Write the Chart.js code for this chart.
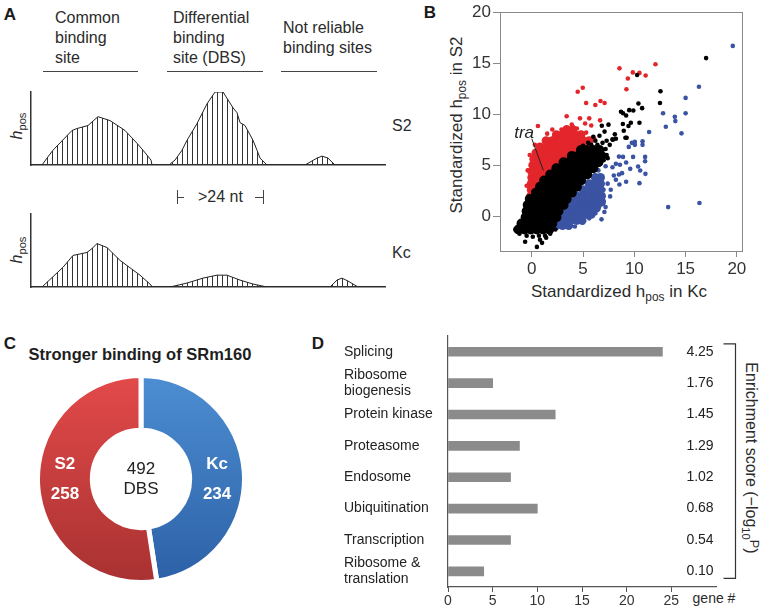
<!DOCTYPE html>
<html lang="en">
<head>
<meta charset="UTF-8">
<meta name="viewport" content="width=device-width, initial-scale=1.0">
<title>SRm160 differential binding</title>
<script src="https://cdn.jsdelivr.net/npm/chart.js"></script>
<style>
  body { margin: 0; background: #fff; font-family: "Liberation Sans", Arial, sans-serif; color: #2b2b2b; }
  #fig { position: relative; width: 767px; height: 614px; overflow: hidden; }
  #fig canvas { position: absolute; }
  .c { position: absolute; transform: translate(-50%, -50%); line-height: 1; white-space: nowrap; }
  .l { position: absolute; transform: translateY(-50%); line-height: 1; white-space: nowrap; }
  .tag { position: absolute; transform: translate(-50%, -50%); line-height: 1; font-weight: bold; font-size: 17px; color: #1a1a1a; }
  .head { position: absolute; font-size: 16px; line-height: 20px; white-space: nowrap; }
  .rule { position: absolute; border-top: 1px solid #444; height: 0; }
  .vrule { position: absolute; border-left: 1px solid #444; width: 0; }
  .rot { position: absolute; white-space: nowrap; line-height: 1; transform: translate(-50%, -50%) rotate(-90deg); }
  .rot90 { position: absolute; white-space: nowrap; line-height: 1; transform: translate(-50%, -50%) rotate(90deg); }
  sub { font-size: 70%; vertical-align: -0.35em; line-height: 0; }
  sup { font-size: 80%; vertical-align: 0.3em; line-height: 0; }
</style>
</head>
<body>
<div id="fig">
  <!-- panel letters -->
  <div class="tag" style="left:10px;top:14px">A</div>
  <div class="tag" style="left:430px;top:12px">B</div>
  <div class="tag" style="left:10px;top:343px">C</div>
  <div class="tag" style="left:318px;top:343px">D</div>

  <!-- panel A headers -->
  <div class="head" style="left:55px;top:8px">Common<br>binding<br>site</div>
  <div class="head" style="left:173px;top:8px">Differential<br>binding<br>site (DBS)</div>
  <div class="head" style="left:283px;top:18px">Not reliable<br>binding sites</div>
  <div class="rule" style="left:43px;top:71px;width:95px"></div>
  <div class="rule" style="left:167px;top:71px;width:96px"></div>
  <div class="rule" style="left:281px;top:71px;width:96px"></div>

  <div class="rot" style="left:17px;top:126px;font-size:16px"><i>h</i><sub>pos</sub></div>
  <div class="rot" style="left:17px;top:250px;font-size:16px"><i>h</i><sub>pos</sub></div>
  <div class="l" style="left:392px;top:126px;font-size:16px">S2</div>
  <div class="l" style="left:392px;top:253px;font-size:16px">Kc</div>

  <div class="vrule" style="left:177px;top:190px;height:14px"></div>
  <div class="rule" style="left:177px;top:197px;width:7px"></div>
  <div class="l" style="left:198px;top:197px;font-size:16px">&gt;24 nt</div>
  <div class="rule" style="left:255px;top:197px;width:8px"></div>
  <div class="vrule" style="left:263px;top:190px;height:14px"></div>

  <!-- panel B titles -->
  <div class="rot" style="left:456px;top:125px;font-size:17px">Standardized h<sub>pos</sub> in S2</div>
  <div class="c" style="left:619px;top:291px;font-size:17px">Standardized h<sub>pos</sub> in Kc</div>

  <!-- panel C title -->
  <div class="c" style="left:140px;top:354px;font-size:16.5px;font-weight:bold;color:#1e1e1e">Stronger binding of SRm160</div>

  <!-- panel D titles -->
  <div class="c" style="left:714px;top:598px;font-size:14px">gene #</div>
  <div class="rot90" style="left:751px;top:458px;font-size:16px">Enrichment score (&minus;log<sub>10</sub><sup>P</sup>)</div>

  <canvas id="aTop" width="357" height="77" style="left:30px;top:90px"></canvas>
  <canvas id="aBot" width="357" height="77" style="left:30px;top:212px"></canvas>
  <canvas id="scatter" width="327" height="300" style="left:440px;top:0px"></canvas>
  <canvas id="donut" width="212" height="212" style="left:35px;top:373px"></canvas>
  <canvas id="bars" width="427" height="294" style="left:340px;top:320px"></canvas>
</div>

<script>
// ---- panel A: schematic peak profiles (position, height) ----
const s2Pos = [0, 11, 16, 22, 41, 46, 57, 67, 79, 94, 106, 112, 120, 121, 138, 144, 151, 156, 166, 176, 184, 192, 202, 206, 209, 214, 222, 226, 229, 236, 274, 286, 291, 297, 304, 354];
const s2Height = [0, 0, 7, 15, 35, 37, 40, 49, 45, 35, 22, 15, 5, 0, 0, 5, 15, 25, 42, 62, 74, 74, 58, 53, 43, 40, 25, 15, 7, 0, 0, 7, 9, 7, 0, 0];
const kcPos = [0, 11, 32, 42, 56, 61, 66, 76, 89, 109, 120, 121, 139, 156, 172, 186, 196, 209, 222, 236, 299, 306, 311, 317, 327, 354];
const kcHeight = [0, 0, 20, 32, 35, 39, 44, 40, 27, 12, 2, 0, 0, 4, 9, 12, 12, 7, 3, 0, 0, 7, 9, 6, 0, 0];

// ---- panel B: standardized h_pos, [Kc, S2] ----
const scatterTicks = [0, 5, 10, 15, 20];
const blackCore = [
  [-1.3,-1.3],[-0.7,-1.3],[-0.1,-1.3],[0.5,-1.3],[1.1,-1.3],[1.7,-1.3],
  [-1.0,-0.7],[-0.4,-0.7],[0.2,-0.7],[0.8,-0.7],[1.4,-0.7],[2.0,-0.7],
  [-0.6,-0.1],[0.0,-0.1],[0.6,-0.1],[1.2,-0.1],[1.8,-0.1],[2.4,-0.1],
  [-0.5,0.5],[0.1,0.5],[0.7,0.5],[1.3,0.5],[1.9,0.5],[2.6,0.5],
  [-0.4,1.1],[0.2,1.1],[0.8,1.1],[1.4,1.1],[2.0,1.1],[2.6,1.1],[3.1,1.1],
  [-0.2,1.7],[0.4,1.7],[1.0,1.7],[1.6,1.7],[2.2,1.7],[2.8,1.7],[3.4,1.7],
  [0.4,2.3],[1.0,2.3],[1.6,2.3],[2.2,2.3],[2.8,2.3],[3.4,2.3],[3.9,2.3],
  [0.8,2.9],[1.4,2.9],[2.0,2.9],[2.6,2.9],[3.2,2.9],[3.8,2.9],[4.4,2.9],
  [1.2,3.5],[1.8,3.5],[2.4,3.5],[3.0,3.5],[3.6,3.5],[4.2,3.5],[4.8,3.5],
  [1.8,4.1],[2.4,4.1],[3.0,4.1],[3.6,4.1],[4.2,4.1],[4.8,4.1],[5.4,4.1],
  [2.4,4.7],[3.0,4.7],[3.6,4.7],[4.2,4.7],[4.8,4.7],[5.4,4.7],[6.0,4.7],
  [3.1,5.3],[3.7,5.3],[4.3,5.3],[4.9,5.3],[5.5,5.3],[6.1,5.3],[6.5,5.3],
  [3.9,5.9],[4.5,5.9],[5.1,5.9],[5.7,5.9],[6.3,5.9],[6.8,5.9],
  [4.8,6.5],[5.4,6.5],[6.0,6.5],[6.6,6.5]
];
const blackSpread = [
  [-1.6,-1.3],[-1.2,-1.7],[-0.5,-1.9],[0.1,-2.0],[0.7,-1.9],[1.3,-1.9],[1.8,-1.7],[-0.65,-2.5],[0.8,-2.3],
  [1.0,-2.6],[0.5,-3.0],[1.4,-2.1],[2.3,-1.3],[6.9,6.2],[7.2,6.6],[6.4,7.0],[6.9,7.2],[7.3,7.4],[7.6,7.0],
  [7.9,7.5],[7.3,6.0],[7.0,5.5],[7.4,5.7],[5.8,7.0],[6.2,7.4],[6.6,7.9],[7.1,8.3],[6.83,8.88],[7.48,8.98],
  [8.1,8.03],[7.87,7.54],[8.2,7.6],[8.97,8.39],[9.13,7.7],[9.25,7.7],[8.88,9.04],[9.43,8.85],[9.66,9.17],
  [10.5,9.17],[9.2,9.88],[8.7,10.24],[8.9,10.1],[9.5,10.4],[9.9,10.37],[10.4,11.05],[10.76,10.6],[12.5,11.1],
  [12.55,12.26],[10.27,13.85],[17.0,15.5],[5.0,6.9],[5.5,7.2],[4.6,6.6],[6.0,7.8]
];
const redCore = [
  [-0.1,2.0],[-0.05,2.6],[0.3,2.6],[-0.05,3.2],[0.4,3.2],[0.0,3.8],[0.5,3.8],[1.0,3.8],
  [0.0,4.4],[0.5,4.4],[1.1,4.4],[1.6,4.4],[0.1,5.0],[0.6,5.0],[1.2,5.0],[1.8,5.0],[2.3,5.0],
  [0.2,5.6],[0.8,5.6],[1.4,5.6],[2.0,5.6],[2.6,5.6],[3.1,5.6],
  [0.4,6.2],[1.0,6.2],[1.6,6.2],[2.2,6.2],[2.8,6.2],[3.4,6.2],[4.0,6.2],
  [0.8,6.8],[1.4,6.8],[2.0,6.8],[2.6,6.8],[3.2,6.8],[3.8,6.8],[4.4,6.8],[5.0,6.8],
  [1.4,7.4],[2.0,7.4],[2.6,7.4],[3.2,7.4],[3.8,7.4],[4.4,7.4],[5.0,7.4],[5.6,7.4],
  [2.4,8.0],[3.0,8.0],[3.6,8.0],[4.2,8.0],[4.8,8.0],[3.4,8.5],[4.0,8.5]
];
const redSpread = [
  [-0.5,3.0],[-0.4,4.5],[-0.2,6.0],[0.3,7.0],[0.6,8.85],[1.5,8.1],[2.0,8.5],[2.9,8.5],[2.5,8.1],[3.4,9.8],
  [3.9,9.0],[4.4,8.6],[4.7,9.6],[5.2,9.1],[5.6,9.6],[5.8,8.9],[5.3,8.2],[6.1,7.6],[6.66,9.4],[4.48,12.2],
  [4.97,12.6],[5.3,11.1],[6.2,10.9],[6.7,11.3],[7.1,11.1],[8.55,14.5],[9.37,13.5],[9.85,14.1],[10.5,14.05],
  [11.1,13.8],[12.06,14.9],[9.23,12.45]
];
const blueCore = [
  [2.4,-0.9],[3.0,-0.9],[3.6,-0.9],
  [2.6,-0.4],[3.2,-0.4],[3.8,-0.4],[4.4,-0.4],[4.9,-0.4],
  [2.9,0.2],[3.5,0.2],[4.1,0.2],[4.7,0.2],[5.3,0.2],[5.8,0.2],
  [3.4,0.8],[4.0,0.8],[4.6,0.8],[5.2,0.8],[5.8,0.8],[6.3,0.8],
  [3.9,1.4],[4.5,1.4],[5.1,1.4],[5.7,1.4],[6.3,1.4],[6.8,1.4],
  [4.4,2.0],[5.0,2.0],[5.6,2.0],[6.2,2.0],[6.8,2.0],
  [5.0,2.6],[5.6,2.6],[6.2,2.6],[6.7,2.6],[5.6,3.2],[6.2,3.2],[6.7,3.2],[6.2,3.8],[6.7,3.8]
];
const blueSpread = [
  [1.9,-1.2],[4.2,-1.0],[5.0,-0.6],[5.6,-0.2],[6.2,0.3],[6.8,-0.3],[6.6,1.0],[7.0,1.5],[7.08,0.42],[7.2,0.9],
  [7.64,1.95],[7.0,2.6],[7.7,2.6],[7.4,3.2],[6.5,4.5],[7.2,4.9],[7.87,4.8],[8.0,4.0],[8.2,3.58],[8.5,4.1],
  [8.55,3.12],[8.8,4.23],[9.2,3.38],[9.6,4.65],[10.37,4.88],[10.57,4.49],[11.08,4.16],[10.5,3.25],[8.2,5.14],
  [8.6,5.05],[9.2,5.27],[8.5,5.85],[8.9,5.82],[9.88,5.82],[11.05,5.82],[11.05,5.4],[9.46,6.8],[9.76,7.2],
  [10.05,7.29],[10.05,7.0],[10.8,7.35],[10.8,7.0],[11.44,8.26],[13.07,8.78],[14.6,8.13],[14.0,9.33],
  [13.95,9.76],[12.8,10.1],[15.0,10.1],[15.0,11.6],[16.3,12.7],[19.6,16.7],[13.3,0.9],[16.35,1.3]
];
const traLabel = [-0.75, 8.1];
const traLine = [[0.0, 7.6], [1.13, 4.49]];

// ---- panel C ----
const cellLines = ['Kc', 'S2'];
const dbsCounts = [234, 258];

// ---- panel D ----
const goTerms = ['Splicing', ['Ribosome', 'biogenesis'], 'Protein kinase', 'Proteasome', 'Endosome',
                 'Ubiquitination', 'Transcription', ['Ribosome &', 'translation']];
const geneCounts = [24, 5, 12, 8, 7, 10, 7, 4];
const enrichScores = ['4.25', '1.76', '1.45', '1.29', '1.02', '0.68', '0.54', '0.10'];
const geneTicks = [0, 5, 10, 15, 20, 25];

const FONT = '"Liberation Sans", Arial, sans-serif';
Chart.defaults.font.family = FONT;
Chart.defaults.animation = false;
Chart.defaults.plugins.legend.display = false;
Chart.defaults.plugins.tooltip.enabled = false;

// vertical hatch tile for the peaks
const hatchTile = document.createElement('canvas');
hatchTile.width = 5; hatchTile.height = 4;
const hctx = hatchTile.getContext('2d');
hctx.fillStyle = '#333';
hctx.fillRect(2, 0, 1, 4);

function peakChart(id, pos, height) {
  const canvas = document.getElementById(id);
  const hatch = canvas.getContext('2d').createPattern(hatchTile, 'repeat');
  return new Chart(canvas, {
    type: 'line',
    data: {
      datasets: [{
        data: pos.map((p, i) => ({ x: p, y: height[i] })),
        borderColor: '#222', borderWidth: 1, backgroundColor: hatch,
        fill: 'origin', pointRadius: 0, tension: 0
      }]
    },
    options: {
      responsive: false,
      layout: { padding: { left: 1, top: 2, right: 2, bottom: 2 } },
      scales: {
        x: { type: 'linear', min: 0, max: 354, afterFit: s => { s.height = 0; },
             ticks: { display: false }, grid: { display: false, drawTicks: false },
             border: { color: '#333', width: 1.5 } },
        y: { min: 0, max: 74, afterFit: s => { s.width = 0; },
             ticks: { display: false }, grid: { display: false, drawTicks: false },
             border: { color: '#333', width: 1.5 } }
      }
    }
  });
}
peakChart('aTop', s2Pos, s2Height);
peakChart('aBot', kcPos, kcHeight);

// ---- scatter ----
const toXY = a => a.map(p => ({ x: p[0], y: p[1] }));
const boxAndLabel = {
  id: 'boxAndLabel',
  afterDraw(chart) {
    const { ctx, chartArea: a, scales: { x, y } } = chart;
    ctx.save();
    ctx.strokeStyle = '#8a8a8a'; ctx.lineWidth = 1;
    ctx.strokeRect(Math.round(a.left) + 0.5, Math.round(a.top) + 0.5, Math.round(a.width), Math.round(a.height));
    ctx.strokeStyle = '#222';
    ctx.beginPath();
    ctx.moveTo(x.getPixelForValue(traLine[0][0]), y.getPixelForValue(traLine[0][1]));
    ctx.lineTo(x.getPixelForValue(traLine[1][0]), y.getPixelForValue(traLine[1][1]));
    ctx.stroke();
    ctx.font = 'italic 17px ' + FONT;
    ctx.fillStyle = '#222'; ctx.textAlign = 'center'; ctx.textBaseline = 'middle';
    ctx.fillText('tra', x.getPixelForValue(traLabel[0]), y.getPixelForValue(traLabel[1]));
    ctx.restore();
  }
};
const pt = (data, color, r, order) => ({
  data: toXY(data), backgroundColor: color, pointRadius: r, pointBorderWidth: 0,
  pointHoverRadius: r, showLine: false, order: order
});
new Chart(document.getElementById('scatter'), {
  type: 'scatter',
  data: {
    datasets: [
      pt(blackCore, '#000', 5, 0),
      pt(blackSpread, '#000', 2.3, 0),
      pt(redCore, '#e3262b', 4.5, 1),
      pt(redSpread, '#e3262b', 2.3, 1),
      pt(blueCore, '#3a53a2', 4.5, 1),
      pt(blueSpread, '#3a53a2', 2.3, 1)
    ]
  },
  options: {
    responsive: false,
    layout: { padding: { left: 0, top: 11, right: 25, bottom: 0 } },
    scales: {
      x: {
        type: 'linear', min: -3.1, max: 20.5,
        afterBuildTicks: s => { s.ticks = scatterTicks.map(v => ({ value: v })); },
        afterFit: s => { s.height = 49; },
        grid: { drawOnChartArea: false, tickLength: 6, color: '#8a8a8a' },
        border: { color: '#8a8a8a' },
        ticks: { color: '#333', font: { size: 17 }, padding: 2, maxRotation: 0 }
      },
      y: {
        type: 'linear', min: -3.4, max: 20,
        afterBuildTicks: s => { s.ticks = scatterTicks.map(v => ({ value: v })); },
        afterFit: s => { s.width = 60; },
        grid: { drawOnChartArea: false, tickLength: 7, color: '#8a8a8a' },
        border: { color: '#8a8a8a' },
        ticks: { color: '#333', font: { size: 17 }, padding: 2 }
      }
    }
  },
  plugins: [boxAndLabel]
});

// ---- doughnut ----
const ringFill = ctx => {
  const area = ctx.chart.chartArea;
  const isKc = ctx.dataIndex === 0;
  if (!area) return isKc ? '#3d77bd' : '#cf3d3d';
  const g = ctx.chart.ctx.createLinearGradient(0, area.top, 0, area.bottom);
  if (isKc) { g.addColorStop(0, '#4d8ed2'); g.addColorStop(1, '#2c60a6'); }
  else { g.addColorStop(0, '#e44a4a'); g.addColorStop(1, '#a83131'); }
  return g;
};
const ringText = {
  id: 'ringText',
  afterDraw(chart) {
    const arc = chart.getDatasetMeta(0).data[0];
    const { x: cx, y: cy, innerRadius, outerRadius } = arc.getProps(['x', 'y', 'innerRadius', 'outerRadius'], true);
    const mid = (innerRadius + outerRadius) / 2;
    const ctx = chart.ctx;
    ctx.save();
    ctx.textAlign = 'center'; ctx.textBaseline = 'middle';
    ctx.font = '17px ' + FONT; ctx.fillStyle = '#222';
    ctx.fillText(String(dbsCounts[0] + dbsCounts[1]), cx, cy - 10);
    ctx.fillText('DBS', cx, cy + 10);
    ctx.font = 'bold 17px ' + FONT; ctx.fillStyle = '#fff';
    ctx.fillText(cellLines[1], cx - mid, cy - 15);
    ctx.fillText(String(dbsCounts[1]), cx - mid, cy + 15);
    ctx.fillText(cellLines[0], cx + mid, cy - 15);
    ctx.fillText(String(dbsCounts[0]), cx + mid, cy + 15);
    ctx.restore();
  }
};
new Chart(document.getElementById('donut'), {
  type: 'doughnut',
  data: { labels: cellLines, datasets: [{ data: dbsCounts, backgroundColor: ringFill, borderColor: '#fff', borderWidth: 5, hoverOffset: 0 }] },
  options: { responsive: false, cutout: '47%', layout: { padding: 0 } },
  plugins: [ringText]
});

// ---- bar chart ----
const scorePlugin = {
  id: 'scores',
  afterDraw(chart) {
    const { ctx, chartArea: a, scales: { y } } = chart;
    ctx.save();
    ctx.font = '14px ' + FONT; ctx.fillStyle = '#222';
    ctx.textAlign = 'center'; ctx.textBaseline = 'middle';
    enrichScores.forEach((s, i) => ctx.fillText(s, a.right - 16, y.getPixelForValue(i)));
    const top = y.getPixelForValue(0) - 8;
    const bot = y.getPixelForValue(enrichScores.length - 1) + 7;
    const bx = Math.round(a.right + 19) + 0.5;
    ctx.strokeStyle = '#333'; ctx.lineWidth = 1.2;
    ctx.beginPath();
    ctx.moveTo(bx - 12, top); ctx.lineTo(bx, top); ctx.lineTo(bx, bot); ctx.lineTo(bx - 12, bot);
    ctx.stroke();
    ctx.restore();
  }
};
new Chart(document.getElementById('bars'), {
  type: 'bar',
  data: { labels: goTerms, datasets: [{ data: geneCounts, backgroundColor: '#8b8b8b', barThickness: 9 }] },
  options: {
    indexAxis: 'y',
    responsive: false,
    layout: { padding: { left: 4, top: 12, right: 51, bottom: 0 } },
    scales: {
      x: {
        min: 0, max: 30,
        afterBuildTicks: s => { s.ticks = geneTicks.map(v => ({ value: v })); },
        afterFit: s => { s.height = 27; },
        grid: { drawOnChartArea: false, tickLength: 5, color: '#555' },
        border: { color: '#555', width: 1.2 },
        ticks: { font: { size: 14 }, color: '#333', padding: 1, maxRotation: 0 }
      },
      y: {
        afterFit: s => { s.width = 104; },
        grid: { display: false, drawTicks: false },
        border: { color: '#555', width: 1.2 },
        ticks: { crossAlign: 'far', autoSkip: false, font: { size: 14, lineHeight: 1.15 }, color: '#222', padding: 0 }
      }
    }
  },
  plugins: [scorePlugin]
});
</script>
</body>
</html>
